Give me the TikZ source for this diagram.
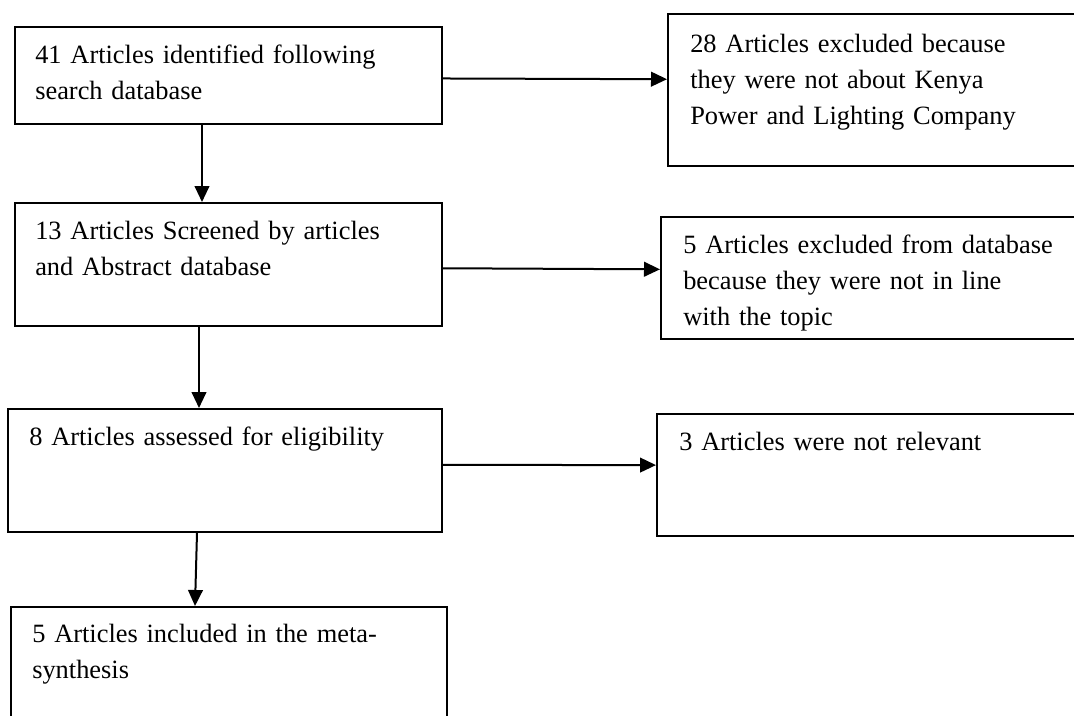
\documentclass[tikz,border=0pt]{standalone}
\usepackage{fontspec}
\setmainfont{Liberation Serif}
\usetikzlibrary{arrows.meta,fit,calc}
\tikzset{
  box/.style={draw=black, line width=1.5pt, inner sep=0pt, fill=none},
  lbl/.style={inner sep=0pt, anchor=base west, text width=13cm, align=left,
              font={\fontsize{19.8pt}{27pt}\selectfont}},
  arr/.style={draw=black, line width=1.5pt, -{Triangle[length=12pt,width=11pt]}}
}
\begin{document}
\begin{tikzpicture}[x=0.75pt,y=-0.75pt]
\useasboundingbox[fill=white] (0,0) rectangle (1074,715);
% boxes
\node[box, fit={(15,27) (442,124)}] (b1) {};
\node[box, fit={(668,14) (1090,166)}] (b2) {};
\node[box, fit={(15,203) (442,326)}] (b3) {};
\node[box, fit={(661,217) (1090,339)}] (b4) {};
\node[box, fit={(8,409) (442,532)}] (b5) {};
\node[box, fit={(657,414) (1090,536)}] (b6) {};
\node[box, fit={(11,607) (447,740)}] (b7) {};
% texts
\node[lbl] (t1) at (35,63) {41 Articles identified following\\search database};
\node[lbl] (t2) at (690,52) {28 Articles excluded because\\they were not about Kenya\\Power and Lighting Company};
\node[lbl] (t3) at (35,239) {13 Articles Screened by articles\\and Abstract database};
\node[lbl] (t4) at (683,253) {5 Articles excluded from database\\because they were not in line\\with the topic};
\node[lbl] (t5) at (29,445) {8 Articles assessed for eligibility};
\node[lbl] (t6) at (679,450) {3 Articles were not relevant};
\node[lbl] (t7) at (32,642) {5 Articles included in the meta-\\synthesis};
% connectors
\draw[arr] ($(b1.north east)!0.53!(b1.south east)$) -- ($(b2.north west)!0.43!(b2.south west)$);
\draw[arr] ($(b1.south west)+(188,0)$) -- ($(b3.north west)+(188,0)$);
\draw[arr] ($(b3.north east)!0.53!(b3.south east)$) -- ($(b4.north west)!0.43!(b4.south west)$);
\draw[arr] ($(b3.south west)+(185,0)$) -- ($(b5.north west)+(192,0)$);
\draw[arr] ($(b5.north east)!0.455!(b5.south east)$) -- ($(b6.north west)!0.42!(b6.south west)$);
\draw[arr] ($(b5.south west)+(190,0)$) -- ($(b7.north west)+(185,0)$);
\end{tikzpicture}
\end{document}
